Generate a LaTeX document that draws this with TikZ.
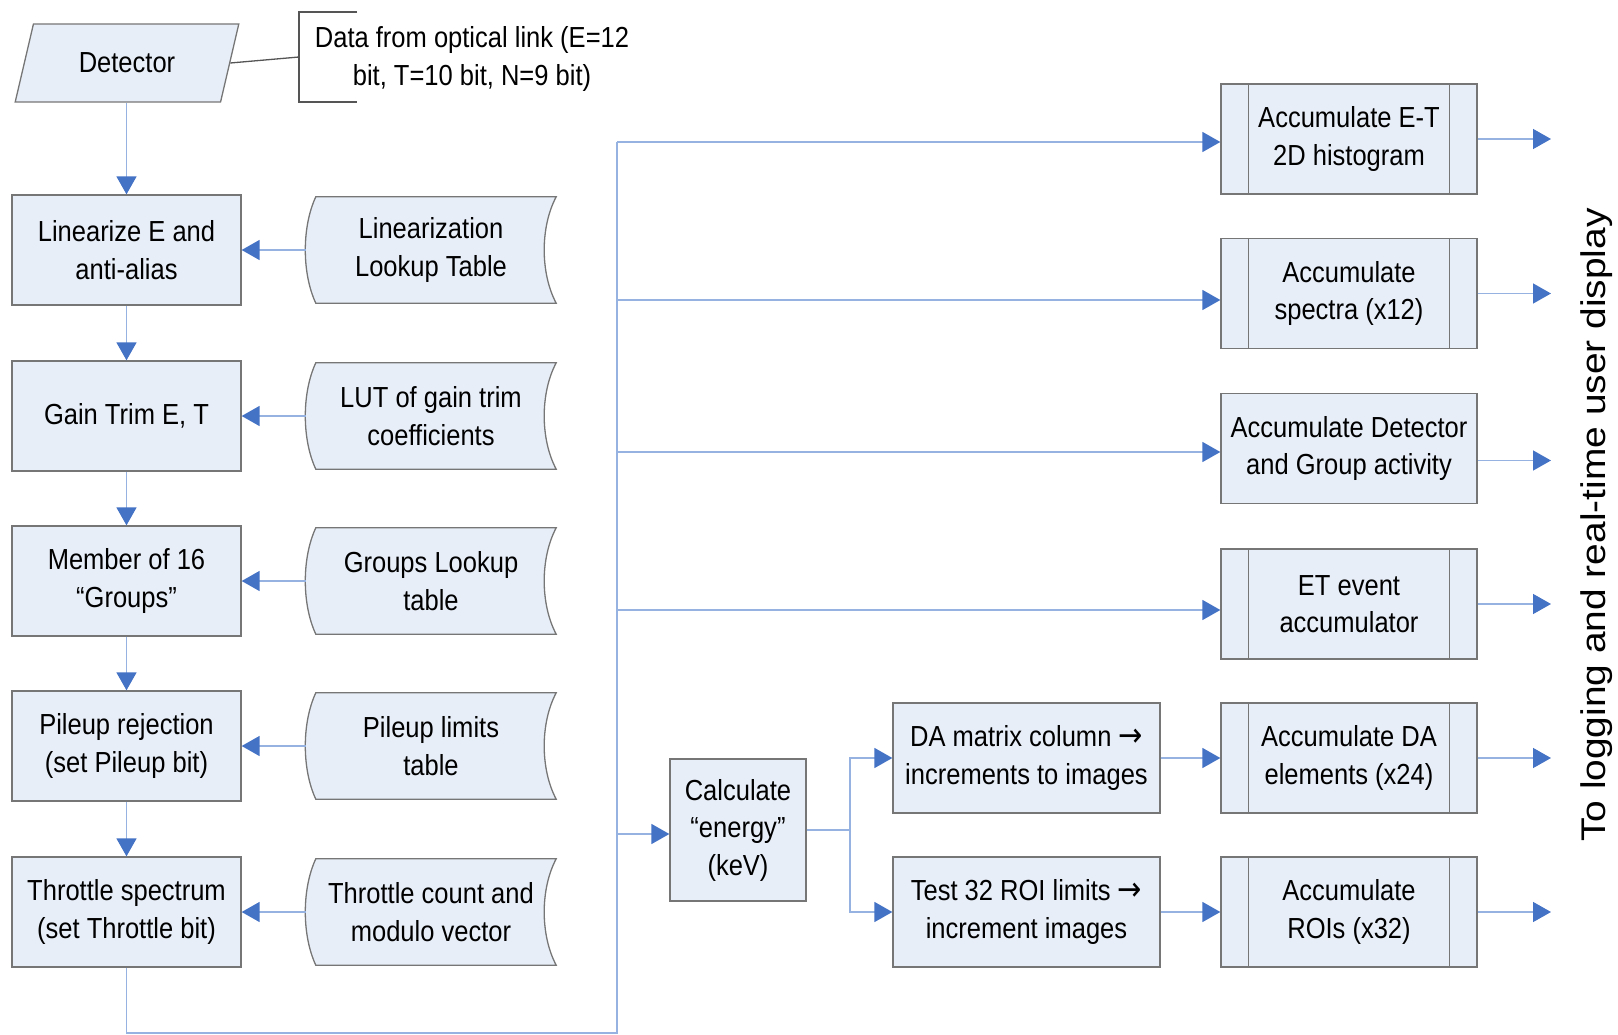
\documentclass[tikz,border=0pt]{standalone}
\usepackage{graphicx}
\usepackage{fontspec}
\setmainfont{Liberation Sans}[FakeStretch=0.88]
\newfontfamily\sidefont{Liberation Sans}
\newfontfamily\arrowfont{DejaVu Sans}[FakeStretch=0.88]
\usepackage{tikz}
\usetikzlibrary{shapes.geometric,arrows.meta,backgrounds}

\definecolor{boxfill}{RGB}{232,238,248}
\definecolor{boxgray}{RGB}{118,118,118}
\definecolor{linkblue}{RGB}{150,178,224}
\definecolor{tipblue}{RGB}{68,114,196}
\definecolor{notegray}{RGB}{85,85,85}

\newcommand{\boxfont}{\fontsize{29}{37.5}\selectfont}
\newcommand{\toarrow}{{\arrowfont\fontsize{33}{37.5}\selectfont →}}

\tikzset{
	box/.style={draw=boxgray, line width=1.3pt, fill=boxfill, minimum width=229pt,
		minimum height=110pt, align=center, inner sep=2pt},
	procbox/.style={box, minimum width=256pt},
	detbox/.style={box, shape=trapezium, trapezium left angle=68, trapezium right angle=112,
		trapezium stretches=true, minimum width=224pt, minimum height=78pt},
	storebox/.style={minimum width=250pt, minimum height=106pt, align=center, inner sep=0pt},
	edge/.style={draw=boxgray, line width=1.3pt},
	link/.style={draw=linkblue, line width=1.5pt},
	flow/.style={link, -{Triangle[length=18pt,width=20pt,color=tipblue]}},
	notebracket/.style={draw=notegray, line width=1.3pt}
}

\begin{document}
\begin{tikzpicture}[x=1pt, y=-1pt, font=\boxfont]
	
	\useasboundingbox (0,0) rectangle (1618,1035);
	
	%left column
	\node[detbox] (det) at (127,63) {Detector};
	\node[box] (lin)  at (126.5,250) {Linearize E and\\anti-alias};
	\node[box] (gain) at (126.5,416) {Gain Trim E, T};
	\node[box] (grp)  at (126.5,581) {Member of 16\\“Groups”};
	\node[box] (pile) at (126.5,746) {Pileup rejection\\(set Pileup bit)};
	\node[box] (thr)  at (126.5,912) {Throttle spectrum\\(set Throttle bit)};
	
	%lookup tables
	\node[storebox] (lintab)  at (431,250) {Linearization\\Lookup Table};
	\node[storebox] (gaintab) at (431,416) {LUT of gain trim\\coefficients};
	\node[storebox] (grptab)  at (431,581) {Groups Lookup\\table};
	\node[storebox] (piletab) at (431,746) {Pileup limits\\table};
	\node[storebox] (thrtab)  at (431,912) {Throttle count and\\modulo vector};
	
	\begin{scope}[on background layer]
		\foreach \n in {lintab,gaintab,grptab,piletab,thrtab}
			\draw[edge, fill=boxfill] ([xshift=10pt]\n.north west) -- (\n.north east)
				.. controls ([xshift=-16pt,yshift=-30pt]\n.north east) and ([xshift=-16pt,yshift=30pt]\n.south east) .. (\n.south east)
				-- ([xshift=10pt]\n.south west)
				.. controls ([xshift=-4pt,yshift=30pt]\n.south west) and ([xshift=-4pt,yshift=-30pt]\n.north west) .. ([xshift=10pt]\n.north west)
				-- cycle;
	\end{scope}
	
	%note on the detector
	\node[align=center] (note) at (472,59) {Data from optical link (E=12\\bit, T=10 bit, N=9 bit)};
	\coordinate (brk) at (299,57);
	\draw[notebracket] (357,12) -| (299,102) -- (357,102);
	\draw[notebracket] (det.east) -- (brk);
	
	%middle
	\node[box, minimum width=136pt, minimum height=142pt] (calc) at (738,830) {Calculate\\“energy”\\(keV)};
	\node[box, minimum width=267pt] (damat)   at (1026.5,758) {DA matrix column \toarrow\\increments to images};
	\node[box, minimum width=267pt] (roitest) at (1026.5,912) {Test 32 ROI limits \toarrow\\increment images};
	
	%right column
	\node[procbox] (etacc)  at (1349,139)   {Accumulate E-T\\2D histogram};
	\node[procbox] (spec)   at (1349,293.5) {Accumulate\\spectra (x12)};
	\node[box, minimum width=256pt] (detacc) at (1349,448.5) {Accumulate Detector\\and Group activity};
	\node[procbox] (etevt)  at (1349,604)   {ET event\\accumulator};
	\node[procbox] (daacc)  at (1349,758)   {Accumulate DA\\elements (x24)};
	\node[procbox] (roiacc) at (1349,912)   {Accumulate\\ROIs (x32)};
	
	\foreach \n in {etacc,spec,etevt,daacc,roiacc}
		\draw[edge] ([xshift=28pt]\n.north west) -- ([xshift=28pt]\n.south west)
			([xshift=-28pt]\n.north east) -- ([xshift=-28pt]\n.south east);
	
	\node[rotate=90, font=\sidefont\fontsize{38.9}{40}\selectfont] (side) at (1597,525)
		{\scalebox{1}[0.88]{To logging and real-time user display}};
	
	%left column arrows
	\draw[flow] (lin.north |- det.south) -- (lin.north);
	\draw[flow] (lin.south)  -- (gain.north);
	\draw[flow] (gain.south) -- (grp.north);
	\draw[flow] (grp.south)  -- (pile.north);
	\draw[flow] (pile.south) -- (thr.north);
	
	\draw[flow] (lintab.west)  -- (lin.east);
	\draw[flow] (gaintab.west) -- (gain.east);
	\draw[flow] (grptab.west)  -- (grp.east);
	\draw[flow] (piletab.west) -- (pile.east);
	\draw[flow] (thrtab.west)  -- (thr.east);
	
	%bus
	\coordinate (bus1) at (617,142);
	\coordinate (bus2) at (617,300);
	\coordinate (bus3) at (617,452);
	\coordinate (bus4) at (617,610);
	\coordinate (bus5) at (617,834);
	\coordinate (bend) at (617,1033);
	\draw[link] (thr.south) |- (bend) -- (bus1);
	
	\draw[flow] (bus1) -- (bus1 -| etacc.west);
	\draw[flow] (bus2) -- (bus2 -| spec.west);
	\draw[flow] (bus3) -- (bus3 -| detacc.west);
	\draw[flow] (bus4) -- (bus4 -| etevt.west);
	\draw[flow] (bus5) -- (bus5 -| calc.west);
	
	%energy split
	\coordinate (split) at (850,830);
	\draw[link] (calc.east) -- (split);
	\draw[flow] (split) |- (damat.west);
	\draw[flow] (split) |- (roitest.west);
	\draw[flow] (damat.east)   -- (daacc.west);
	\draw[flow] (roitest.east) -- (roiacc.west);
	
	%outputs
	\coordinate (outx) at (1551,0);
	\foreach \n in {etacc,spec,etevt,daacc,roiacc}
		\draw[flow] (\n.east) -- (\n.east -| outx);
	\draw[flow] ([yshift=-12pt]detacc.east) -- ([yshift=-12pt]detacc.east -| outx);
	
\end{tikzpicture}
\end{document}
